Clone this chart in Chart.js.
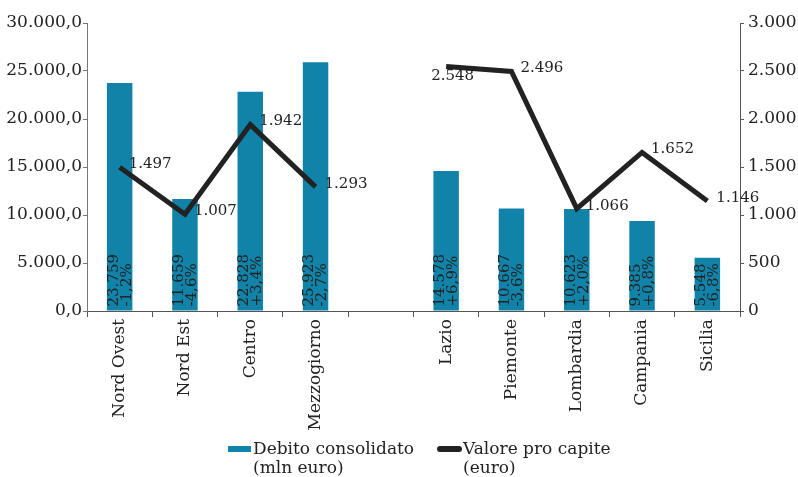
<!DOCTYPE html>
<html>
<head>
<meta charset="utf-8">
<script src="https://cdn.jsdelivr.net/npm/chart.js@4/dist/chart.umd.min.js"></script>
<style>
  html, body { margin: 0; padding: 0; background: #fff; }
  #wrap { position: relative; width: 798px; height: 477px; }
  #legend { position: absolute; left: 0; top: 439px; width: 798px; font-family: "DejaVu Serif", serif; font-size: 17px; line-height: 19px; color: #222; }
  .item { position: absolute; top: 0; }
  .sw { position: absolute; top: 7px; height: 6px; }
  .txt { position: absolute; white-space: nowrap; }
</style>
</head>
<body>
<div id="wrap">
  <canvas id="c" width="798" height="477"></canvas>
  <div id="legend">
    <div class="item" style="left:228px;">
      <div class="sw" style="left:0;width:23px;background:#1183a8;"></div>
      <div class="txt" style="left:25px;">Debito consolidato<br>(mln euro)</div>
    </div>
    <div class="item" style="left:437px;">
      <div class="sw" style="left:0;width:25px;background:#222;border-radius:3px;"></div>
      <div class="txt" style="left:26px;">Valore pro capite<br>(euro)</div>
    </div>
  </div>
</div>
<script>
const categories = ['Nord Ovest', 'Nord Est', 'Centro', 'Mezzogiorno', '', 'Lazio', 'Piemonte', 'Lombardia', 'Campania', 'Sicilia'];
const debito = [23759, 11659, 22828, 25923, null, 14578, 10667, 10623, 9385, 5548];
const variazione = ['-1,2%', '-4,6%', '+3,4%', '-2,7%', '', '+6,9%', '-3,6%', '+2,0%', '+0,8%', '-6,8%'];
const proCapite = [1497, 1007, 1942, 1293, null, 2548, 2496, 1066, 1652, 1146];
const leftTicks = [0, 5000, 10000, 15000, 20000, 25000, 30000];
const rightTicks = [0, 500, 1000, 1500, 2000, 2500, 3000];

const FONT = '"DejaVu Serif", serif';
const BLUE = '#1183a8';
const DARK = '#222222';

function thousands(n) {
  return String(Math.round(n)).replace(/\B(?=(\d{3})+(?!\d))/g, '.');
}

const labelPlugin = {
  id: 'labels',
  afterDatasetsDraw(chart) {
    const ctx = chart.ctx;
    const barMeta = chart.getDatasetMeta(0);
    ctx.save();
    ctx.fillStyle = DARK;
    ctx.font = '15px ' + FONT;
    ctx.textAlign = 'left';
    ctx.textBaseline = 'middle';
    barMeta.data.forEach((bar, i) => {
      if (debito[i] == null) return;
      ctx.save();
      ctx.translate(bar.x, bar.base - 4);
      ctx.rotate(-Math.PI / 2);
      ctx.fillText(thousands(debito[i]), 0, -6);
      ctx.fillText(variazione[i], 0, 7);
      ctx.restore();
    });
    ctx.restore();
    const lineMeta = chart.getDatasetMeta(1);
    ctx.save();
    ctx.fillStyle = DARK;
    ctx.font = '15px ' + FONT;
    ctx.textAlign = 'left';
    ctx.textBaseline = 'middle';
    lineMeta.data.forEach((pt, i) => {
      if (proCapite[i] == null) return;
      let dx = 9, dy = -3;
      if (categories[i] === 'Lazio') { dx = -15; dy = 10; }
      ctx.fillText(thousands(proCapite[i]), pt.x + dx, pt.y + dy);
    });
    ctx.restore();
  }
};

new Chart(document.getElementById('c'), {
  type: 'bar',
  data: {
    labels: categories,
    datasets: [
      {
        type: 'bar',
        label: 'Debito consolidato (mln euro)',
        data: debito,
        backgroundColor: BLUE,
        yAxisID: 'y',
        categoryPercentage: 1,
        barPercentage: 0.39,
        order: 2
      },
      {
        type: 'line',
        label: 'Valore pro capite (euro)',
        data: proCapite,
        borderColor: DARK,
        borderWidth: 5,
        pointRadius: 0,
        tension: 0,
        spanGaps: false,
        borderJoinStyle: 'miter',
        yAxisID: 'y1',
        order: 1
      }
    ]
  },
  options: {
    responsive: false,
    animation: false,
    layout: { padding: { top: 23 } },
    plugins: { legend: { display: false }, tooltip: { enabled: false } },
    scales: {
      x: {
        grid: { offset: true, drawOnChartArea: false, tickLength: 6, color: '#555' },
        border: { color: '#555' },
        ticks: { maxRotation: 90, minRotation: 90, autoSkip: false, padding: 2, color: DARK, font: { family: FONT, size: 17 } },
        afterFit(s) { s.height = 166; }
      },
      y: {
        position: 'left',
        min: 0, max: 30000,
        afterBuildTicks(s) { s.ticks = leftTicks.map(v => ({ value: v })); },
        grid: { drawOnChartArea: false, tickLength: 4, color: '#777' },
        border: { color: '#777' },
        ticks: { padding: 1, color: DARK, font: { family: FONT, size: 17 }, callback: v => thousands(v) + ',0' },
        afterFit(s) { s.width = 87; }
      },
      y1: {
        position: 'right',
        min: 0, max: 3000,
        afterBuildTicks(s) { s.ticks = rightTicks.map(v => ({ value: v })); },
        grid: { drawOnChartArea: false, tickLength: 4, color: '#555' },
        border: { color: '#555' },
        ticks: { padding: 4, color: DARK, font: { family: FONT, size: 17 }, callback: v => thousands(v) },
        afterFit(s) { s.width = 58; }
      }
    }
  },
  plugins: [labelPlugin]
});
</script>
</body>
</html>
